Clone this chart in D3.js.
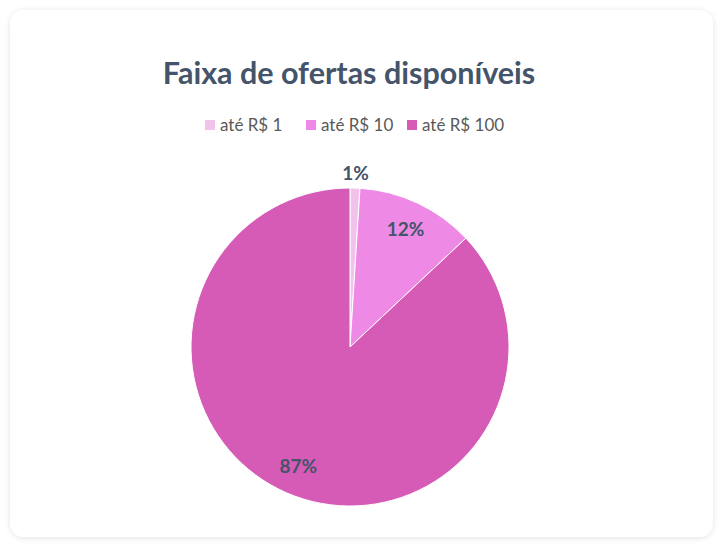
<!DOCTYPE html>
<html>
<head>
<meta charset="utf-8">
<script src="https://cdn.jsdelivr.net/npm/d3@7"></script>
<style>
	body { margin: 0; background: #ffffff; }
	svg { display: block; }
</style>
</head>
<body>
<svg id="chart" width="724" height="548"></svg>
<script>
const categories = ["até R$ 1", "até R$ 10", "até R$ 100"];
const values = [1, 12, 87];
const colors = ["#f2c3ea", "#ee8ae6", "#d65bb6"];

const svg = d3.select("#chart");
const width = 724, height = 548;
const font = "Lato, 'Open Sans', 'Liberation Sans', sans-serif";

// card with soft shadow
const defs = svg.append("defs");
const shadow = defs.append("filter").attr("id", "shadow")
	.attr("x", "-5%").attr("y", "-5%").attr("width", "110%").attr("height", "110%");
shadow.append("feGaussianBlur").attr("in", "SourceAlpha").attr("stdDeviation", 3);
shadow.append("feOffset").attr("dx", 0).attr("dy", 1).attr("result", "blur");
shadow.append("feComponentTransfer").append("feFuncA").attr("type", "linear").attr("slope", 0.12);
const merge = shadow.append("feMerge");
merge.append("feMergeNode");
merge.append("feMergeNode").attr("in", "SourceGraphic");

svg.append("rect")
	.attr("x", 10).attr("y", 10)
	.attr("width", width - 21).attr("height", height - 21)
	.attr("rx", 14)
	.attr("fill", "#ffffff")
	.attr("filter", "url(#shadow)");

svg.append("text")
	.attr("x", 349).attr("y", 84)
	.attr("text-anchor", "middle")
	.attr("font-family", font)
	.attr("font-weight", "bold")
	.attr("font-size", 30.5)
	.attr("fill", "#44546a")
	.text("Faixa de ofertas disponíveis");

// legend
const legendX = d3.scalePoint().domain(categories).range([205, 407]);
const legend = svg.append("g").selectAll("g")
	.data(categories)
	.enter()
	.append("g")
	.attr("transform", d => "translate(" + legendX(d) + " 131)");

legend.append("rect")
	.attr("x", 0).attr("y", -11)
	.attr("width", 10).attr("height", 10)
	.attr("fill", (d, i) => colors[i]);

legend.append("text")
	.attr("x", 15).attr("y", 0)
	.attr("font-family", font)
	.attr("font-size", 17)
	.attr("fill", "#595959")
	.text(d => d);

// pie
const cx = 350, cy = 347, r = 159;
const pie = d3.pie().sort(null).value(d => d);
const arcs = pie(values);
const arc = d3.arc().innerRadius(0).outerRadius(r);

const g = svg.append("g").attr("transform", "translate(" + cx + " " + cy + ")");

g.selectAll("path")
	.data(arcs)
	.enter()
	.append("path")
	.attr("d", arc)
	.attr("fill", (d, i) => colors[i])
	.attr("stroke", "#ffffff")
	.attr("stroke-width", 1);

// label placement: small slice outside, others inside
const labelRadius = [r * 1.09, r * 0.82, r * 0.82];
g.selectAll("text")
	.data(arcs)
	.enter()
	.append("text")
	.attr("transform", (d, i) => {
		const a = (d.startAngle + d.endAngle) / 2;
		const lr = labelRadius[i];
		return "translate(" + (Math.sin(a) * lr) + " " + (-Math.cos(a) * lr) + ")";
	})
	.attr("text-anchor", "middle")
	.attr("dy", "0.35em")
	.attr("font-family", font)
	.attr("font-weight", "bold")
	.attr("font-size", 19)
	.attr("fill", "#44546a")
	.text(d => d.data + "%");
</script>
</body>
</html>
